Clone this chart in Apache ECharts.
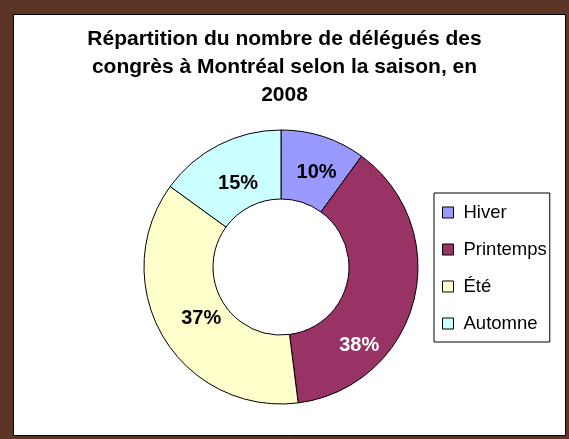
<!DOCTYPE html>
<html>
<head>
<meta charset="utf-8">
<script src="https://cdn.jsdelivr.net/npm/echarts@6/dist/echarts.min.js"></script>
<style>
  html, body { margin: 0; padding: 0; background: #5c3526; }
  #chart-container { width: 569px; height: 439px; }
</style>
</head>
<body>
<div id="chart-container"></div>
<script>
const titleText = "Répartition du nombre de délégués des\ncongrès à Montréal selon la saison, en\n2008"
const seasons = ["Hiver", "Printemps", "Été", "Automne"]
const shares = [10, 38, 37, 15]
const seasonColors = ["#9999ff", "#993366", "#ffffcc", "#ccffff"]
const labelColors = ["#000000", "#ffffff", "#000000", "#000000"]
// nudges so labels sit where the original chart put them
const labelOffsets = [[3, 6], [-24, 52], [11, -2], [5, 10]]

const fontFamily = "'Liberation Sans', Arial, sans-serif"

var dom = document.getElementById("chart-container")
var myChart = echarts.init(dom, null, { renderer: "canvas" })

const pieData = seasons.map((name, i) => ({
  name,
  value: shares[i],
  itemStyle: { color: seasonColors[i] },
  label: { color: labelColors[i], offset: labelOffsets[i] }
}))

var option = {
  animation: false,
  backgroundColor: "#5c3526",
  textStyle: { fontFamily },
  graphic: [
    {
      type: "rect",
      shape: { x: 13.5, y: 14.5, width: 552, height: 421 },
      style: { fill: "#ffffff", stroke: "#000000", lineWidth: 1 },
      silent: true,
      z: -10
    }
  ],
  title: {
    text: titleText,
    left: "center",
    top: 25,
    padding: 0,
    textStyle: {
      fontFamily,
      fontSize: 21,
      fontWeight: "bold",
      color: "#000000",
      lineHeight: 28
    }
  },
  legend: {
    orient: "vertical",
    left: 434,
    top: 193,
    padding: [10, 3, 9, 8],
    itemGap: 18,
    itemWidth: 11,
    itemHeight: 11,
    icon: "rect",
    borderColor: "#000000",
    borderWidth: 1,
    backgroundColor: "#ffffff",
    data: seasons,
    itemStyle: { borderColor: "#000000", borderWidth: 1 },
    textStyle: {
      fontFamily,
      fontSize: 18.5,
      color: "#000000",
      padding: [0, 0, 0, 5]
    }
  },
  series: [
    {
      type: "pie",
      center: [281, 267],
      radius: [68, 137],
      startAngle: 90,
      clockwise: true,
      silent: true,
      itemStyle: { borderColor: "#000000", borderWidth: 1 },
      label: {
        show: true,
        position: "inside",
        formatter: "{c}%",
        fontFamily,
        fontSize: 20,
        fontWeight: "bold",
        color: "#000000"
      },
      labelLine: { show: false },
      emphasis: { disabled: true },
      data: pieData
    }
  ]
}

myChart.setOption(option)
window.addEventListener("resize", myChart.resize)
</script>
</body>
</html>
